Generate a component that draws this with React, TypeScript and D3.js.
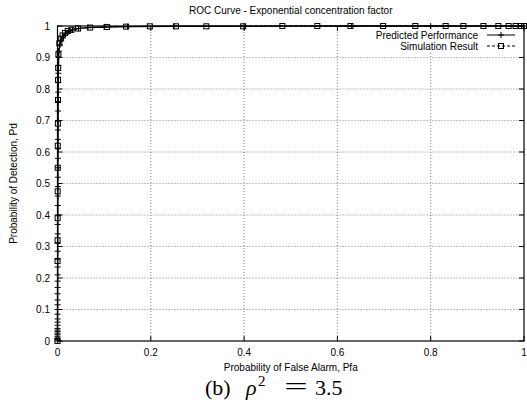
import React from "react";
import * as d3 from "d3";

// Predicted Performance (analytic ROC)
const predPfa = [
  0, 0.00001, 0.00002, 0.00003, 0.00004, 0.00005, 0.00006, 0.00007, 0.00008, 0.0001,
  0.00012, 0.00014, 0.00016, 0.00018, 0.0002, 0.00022, 0.00025, 0.00028, 0.0003, 0.00033,
  0.00036, 0.0004, 0.00043, 0.00046, 0.0005, 0.00054, 0.00058, 0.00062, 0.00066, 0.0007,
  0.00075, 0.0008, 0.00085, 0.0009, 0.00095, 0.001, 0.0011, 0.0012, 0.0013, 0.0014,
  0.0016, 0.0018, 0.002, 0.0025, 0.003, 0.005, 0.008, 0.012, 0.017, 0.024,
  0.032, 0.045, 0.065, 0.1, 0.15, 0.25, 0.4, 0.63, 0.8, 1.0,
];
const predPd = [
  0, 0.005, 0.01, 0.015, 0.02, 0.025, 0.03, 0.035, 0.04, 0.05,
  0.06, 0.07, 0.085, 0.1, 0.115, 0.13, 0.15, 0.17, 0.19, 0.21,
  0.235, 0.26, 0.285, 0.31, 0.34, 0.37, 0.4, 0.43, 0.46, 0.49,
  0.52, 0.55, 0.58, 0.61, 0.64, 0.67, 0.7, 0.73, 0.76, 0.79,
  0.82, 0.85, 0.875, 0.9, 0.92, 0.94, 0.955, 0.965, 0.975, 0.982,
  0.988, 0.992, 0.995, 0.997, 0.998, 0.999, 0.9995, 0.9998, 0.9999, 1.0,
];

// Simulation Result (Monte Carlo)
const simPfa = [
  0, 0.0001, 0.0002, 0.0003, 0.0004, 0.0005, 0.0006, 0.0008, 0.001, 0.0012,
  0.0015, 0.002, 0.004, 0.007, 0.011, 0.016, 0.022, 0.03, 0.044, 0.07,
  0.106, 0.147, 0.198, 0.254, 0.319, 0.398, 0.482, 0.557, 0.628, 0.698,
  0.767, 0.832, 0.87, 0.913, 0.945, 0.967, 0.982, 0.993, 1.0,
];
const simPd = [
  0.0, 0.254, 0.32, 0.39, 0.475, 0.55, 0.62, 0.69, 0.765, 0.829,
  0.867, 0.91, 0.945, 0.96, 0.97, 0.978, 0.984, 0.988, 0.992, 0.995,
  0.997, 0.998, 0.999, 0.999, 0.999, 0.999, 1.0, 1.0, 1.0, 1.0,
  1.0, 1.0, 1.0, 1.0, 1.0, 1.0, 1.0, 1.0, 1.0,
];

const xTicks = [0, 0.2, 0.4, 0.6, 0.8, 1];
const yTicks = [0, 0.1, 0.2, 0.3, 0.4, 0.5, 0.6, 0.7, 0.8, 0.9, 1];
const xTickLabels = ["0", "0.2", "0.4", "0.6", "0.8", "1"];
const yTickLabels = ["0", "0.1", "0.2", "0.3", "0.4", "0.5", "0.6", "0.7", "0.8", "0.9", "1"];

const seriesNames = ["Predicted Performance", "Simulation Result"];

const W = 527;
const H = 404;
const left = 57.5;
const right = 524;
const top = 26;
const bottom = 341;

const sans = "'Liberation Sans', Arial, Helvetica, sans-serif";
const serif = "'Liberation Serif', 'DejaVu Serif', 'Times New Roman', serif";

export default function App() {
  const x = d3.scaleLinear().domain([0, 1]).range([left, right]);
  const y = d3.scaleLinear().domain([0, 1]).range([bottom, top]);

  const line = d3
    .line<[number, number]>()
    .x((d) => x(d[0]))
    .y((d) => y(d[1]));

  const pred: [number, number][] = predPfa.map((p, i) => [p, predPd[i]]);
  const sim: [number, number][] = simPfa.map((p, i) => [p, simPd[i]]);

  const plus = (cx: number, cy: number, k: string) => (
    <path key={k} d={`M${cx - 3},${cy}H${cx + 3}M${cx},${cy - 3}V${cy + 3}`} stroke="#000" strokeWidth={1} fill="none" />
  );
  const square = (cx: number, cy: number, k: string) => (
    <rect key={k} x={cx - 2.5} y={cy - 2.5} width={5} height={5} stroke="#000" strokeWidth={1} fill="none" />
  );

  const tickLen = 5;

  return (
    <svg width={W} height={H} style={{ position: "absolute", left: 0, top: 0, background: "#fff" }}>
      <rect x={0} y={0} width={W} height={H} fill="#fff" />
      <text x={(left + right) / 2} y={14} textAnchor="middle" fontFamily={sans} fontSize={10} fill="#000">
        ROC Curve - Exponential concentration factor
      </text>

      {/* grid */}
      <g stroke="#000" strokeWidth={0.6} strokeDasharray="1,2" opacity={0.8}>
        {yTicks.slice(1, -1).map((t) => (
          <line key={"gy" + t} x1={left} x2={right} y1={y(t)} y2={y(t)} />
        ))}
        {xTicks.slice(1, -1).map((t) => (
          <line key={"gx" + t} x1={x(t)} x2={x(t)} y1={top} y2={bottom} />
        ))}
      </g>

      {/* ticks on all four sides */}
      <g stroke="#000" strokeWidth={1}>
        {yTicks.map((t) => (
          <g key={"ty" + t}>
            <line x1={left} x2={left + tickLen} y1={y(t)} y2={y(t)} />
            <line x1={right} x2={right - tickLen} y1={y(t)} y2={y(t)} />
          </g>
        ))}
        {xTicks.map((t) => (
          <g key={"tx" + t}>
            <line x1={x(t)} x2={x(t)} y1={bottom} y2={bottom - tickLen} />
            <line x1={x(t)} x2={x(t)} y1={top} y2={top + tickLen} />
          </g>
        ))}
      </g>

      {/* tick labels */}
      <g fontFamily={sans} fontSize={10} fill="#000">
        {yTicks.map((t, i) => (
          <text key={"ly" + t} x={50} y={y(t)} dy="0.35em" textAnchor="end">
            {yTickLabels[i]}
          </text>
        ))}
        {xTicks.map((t, i) => (
          <text key={"lx" + t} x={x(t)} y={352} dy="0.35em" textAnchor="middle">
            {xTickLabels[i]}
          </text>
        ))}
      </g>

      {/* axis titles */}
      <text x={(left + right) / 2} y={367} dy="0.35em" textAnchor="middle" fontFamily={sans} fontSize={10}>
        Probability of False Alarm, Pfa
      </text>
      <text
        transform={`translate(13,${(top + bottom) / 2}) rotate(-90)`}
        dy="0.35em"
        textAnchor="middle"
        fontFamily={sans}
        fontSize={10}
      >
        Probability of Detection, Pd
      </text>

      {/* legend */}
      <rect x={368} y={29} width={152} height={22} fill="#fff" />
      <g fontFamily={sans} fontSize={10} fill="#000">
        <text x={478} y={35} dy="0.35em" textAnchor="end">
          {seriesNames[0]}
        </text>
        <text x={478} y={46} dy="0.35em" textAnchor="end">
          {seriesNames[1]}
        </text>
      </g>
      <line x1={487} x2={515} y1={35} y2={35} stroke="#000" strokeWidth={1} />
      {plus(501, 35, "lp")}
      <line x1={487} x2={515} y1={46} y2={46} stroke="#000" strokeWidth={1} strokeDasharray="3,2" />
      {square(501, 46, "ls")}

      {/* curves */}
      <path d={line(sim) ?? ""} fill="none" stroke="#000" strokeWidth={1} strokeDasharray="3,2" />
      <path d={line(pred) ?? ""} fill="none" stroke="#000" strokeWidth={1.4} />
      {sim.map((d, i) => square(x(d[0]), y(d[1]), "s" + i))}
      {pred.map((d, i) => plus(x(d[0]), y(d[1]), "p" + i))}

      {/* frame */}
      <rect x={left} y={top} width={right - left} height={bottom - top} fill="none" stroke="#000" strokeWidth={1.2} />

      {/* caption */}
      <g fontFamily={serif} fill="#000">
        <text x={205} y={395} fontSize={22}>(b)</text>
        <text x={246} y={395} fontSize={22} fontStyle="italic">ρ</text>
        <text x={258} y={386} fontSize={15}>2</text>
        <text x={296} y={395} fontSize={26} textAnchor="middle" transform="translate(296,0) scale(1.6,1) translate(-296,0)">=</text>
        <text x={315} y={395} fontSize={22}>3.5</text>
      </g>
    </svg>
  );
}
